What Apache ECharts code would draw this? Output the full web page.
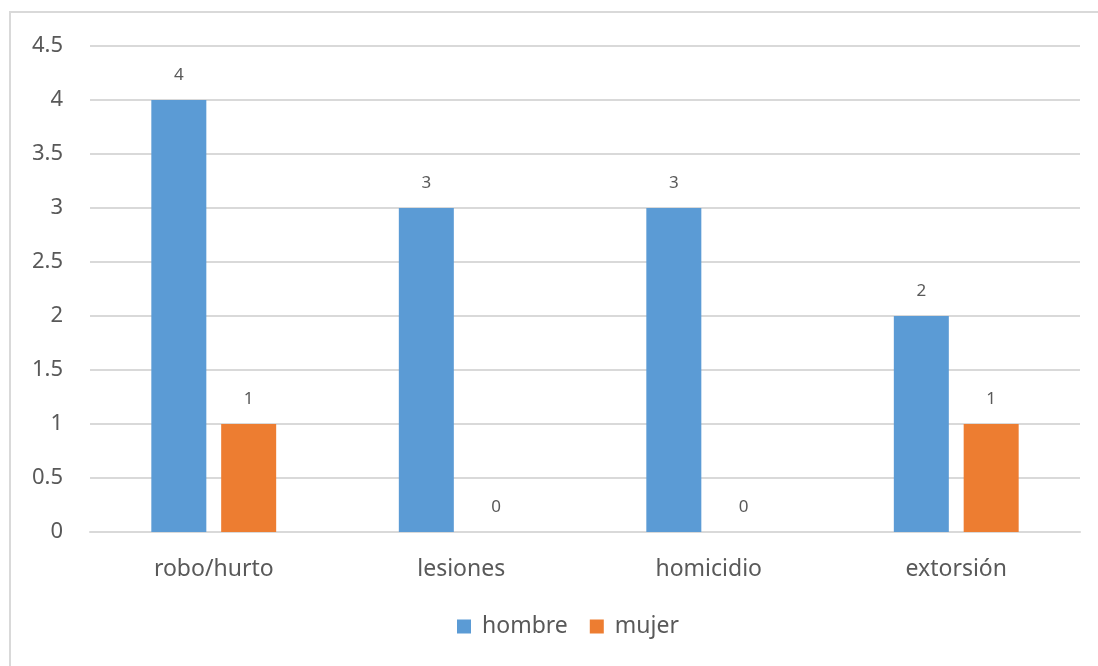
<!DOCTYPE html>
<html><head><meta charset="utf-8">
<script src="https://cdn.jsdelivr.net/npm/echarts@6/dist/echarts.min.js"></script>
<style>html,body{margin:0;padding:0;background:#fff}#c{width:1098px;height:666px}</style>
</head><body><div id="c"></div>
<script>
const categories = ['robo/hurto', 'lesiones', 'homicidio', 'extorsión'];
const hombre = [4, 3, 3, 2];
const mujer = [1, 0, 0, 1];
const yTicks = { min: 0, max: 4.5, interval: 0.5 };

const chart = echarts.init(document.getElementById('c'));
const font = '"Noto Sans", "Open Sans", sans-serif';
const txt = '#595959';
chart.setOption({
  animation: false,
  textStyle: { fontFamily: font },
  graphic: [{ type: 'rect', shape: { x: 10, y: 12, width: 1200, height: 1000 }, style: { fill: 'none', stroke: '#D9D9D9', lineWidth: 2 }, z: -1 }],
  grid: { left: 90, right: 18, top: 46, bottom: 134 },
  legend: {
    bottom: 23, left: 452, itemWidth: 14, itemHeight: 14, itemGap: 22,
    icon: 'rect',
    textStyle: { color: txt, fontSize: 23, fontFamily: font, padding: [0, 0, 0, 6] }
  },
  xAxis: {
    type: 'category', data: categories,
    axisLine: { lineStyle: { color: '#D9D9D9', width: 2 } },
    axisTick: { show: false },
    axisLabel: { color: txt, fontSize: 23, margin: 26 }
  },
  yAxis: {
    type: 'value', min: yTicks.min, max: yTicks.max, interval: yTicks.interval,
    axisLine: { show: false }, axisTick: { show: false },
    splitLine: { lineStyle: { color: '#D9D9D9', width: 2 } },
    axisLabel: { color: txt, fontSize: 22, margin: 27 }
  },
  series: [
    { name: 'hombre', type: 'bar', data: hombre, barWidth: 55, barGap: '27%',
      itemStyle: { color: '#5B9BD5' },
      label: { show: true, position: 'top', distance: 16, color: txt, fontSize: 17 } },
    { name: 'mujer', type: 'bar', data: mujer, barWidth: 55,
      itemStyle: { color: '#ED7D31' },
      label: { show: true, position: 'top', distance: 16, color: txt, fontSize: 17 } }
  ]
});
</script></body></html>
